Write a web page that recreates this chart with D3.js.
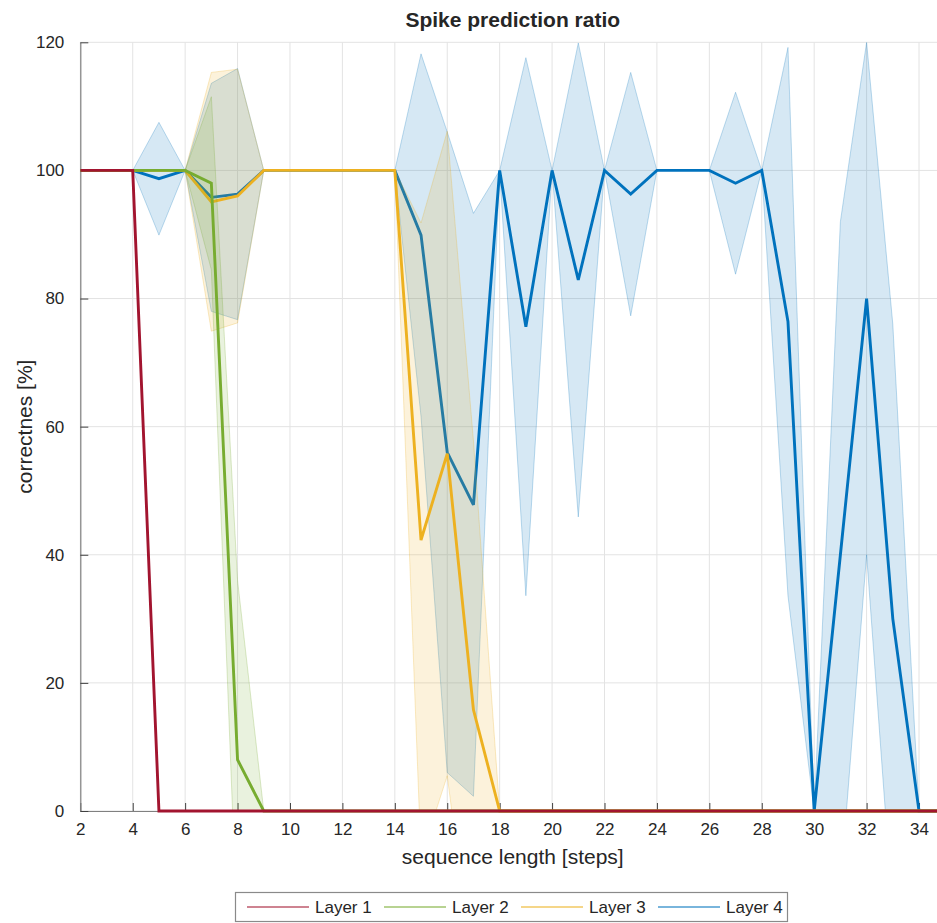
<!DOCTYPE html>
<html>
<head>
<meta charset="utf-8">
<script src="https://cdn.jsdelivr.net/npm/d3@7/dist/d3.min.js"></script>
<style>
html,body{margin:0;padding:0;background:#fff;}
svg{display:block;}
text{font-family:"Liberation Sans",Arial,Helvetica,sans-serif;fill:#262626;}
</style>
</head>
<body>
<svg id="chart" width="937" height="923"></svg>
<script>
// ---- data ----
const steps = d3.range(2, 36); // 2..35
const layer1 = [100,100,100,0,0,0,0,0,0,0,0,0,0,0,0,0,0,0,0,0,0,0,0,0,0,0,0,0,0,0,0,0,0,0];
const layer1Std = [0,0,0,0,0,0,0,0,0,0,0,0,0,0,0,0,0,0,0,0,0,0,0,0,0,0,0,0,0,0,0,0,0,0];
const layer2 = [100,100,100,100,100,98,8,0,0,0,0,0,0,0,0,0,0,0,0,0,0,0,0,0,0,0,0,0,0,0,0,0,0,0];
const layer2Std = [0,0,0,0,0,13.5,28,0,0,0,0,0,0,0,0,0,0,0,0,0,0,0,0,0,0,0,0,0,0,0,0,0,0,0];
const layer3 = [100,100,100,100,100,95.1,96,100,100,100,100,100,100,42.3,55.8,15.8,0,0,0,0,0,0,0,0,0,0,0,0,0,0,0,0,0,0];
const layer3Std = [0,0,0,0,0,20.2,19.8,0,0,0,0,0,0,49.5,50.3,42,0,0,0,0,0,0,0,0,0,0,0,0,0,0,0,0,0,0];
const layer4 = [100,100,100,98.7,100,95.8,96.3,100,100,100,100,100,100,89.9,56,47.8,100,75.6,100,82.9,100,96.3,100,100,100,98,100,76.4,0,40,80,30,0,0];
const layer4Std = [0,0,0,8.8,0,17.8,19.6,0,0,0,0,0,0,28.3,50,45.5,0,42,0,37,0,19,0,0,0,14.2,0,42.8,0,52,40,46,0,0];
const seriesNames = ["Layer 1","Layer 2","Layer 3","Layer 4"];
const seriesColors = ["#A2142F","#77AC30","#EDB120","#0072BD"];
const xTicks = d3.range(2, 35, 2);
const yTicks = [0,20,40,60,80,100,120];

const series = [
  {name: seriesNames[0], color: seriesColors[0], mean: layer1, std: layer1Std},
  {name: seriesNames[1], color: seriesColors[1], mean: layer2, std: layer2Std},
  {name: seriesNames[2], color: seriesColors[2], mean: layer3, std: layer3Std},
  {name: seriesNames[3], color: seriesColors[3], mean: layer4, std: layer4Std}
];

// ---- layout ----
const svg = d3.select("#chart");
const pLeft = 80.3, pTop = 42.3, pBottom = 811;
const x = d3.scaleLinear().domain([2, 35]).range([pLeft, pLeft + 33 * 26.21]);
const y = d3.scaleLinear().domain([0, 120]).range([pBottom, pTop]);
const pRight = x(35);

const defs = svg.append("defs");
defs.append("clipPath").attr("id", "clipFill").append("rect")
  .attr("x", pLeft).attr("y", pTop).attr("width", pRight - pLeft).attr("height", pBottom - pTop);
defs.append("clipPath").attr("id", "clipLine").append("rect")
  .attr("x", pLeft).attr("y", pTop - 3).attr("width", pRight - pLeft).attr("height", pBottom - pTop + 6);

// grid
const grid = svg.append("g");
grid.selectAll("line.gx").data(xTicks).join("line")
  .attr("x1", d => x(d)).attr("x2", d => x(d)).attr("y1", pTop).attr("y2", pBottom)
  .attr("stroke", "#e3e3e3").attr("stroke-width", 1);
grid.selectAll("line.gy").data(yTicks).join("line")
  .attr("x1", pLeft).attr("x2", pRight).attr("y1", d => y(d)).attr("y2", d => y(d))
  .attr("stroke", "#e3e3e3").attr("stroke-width", 1);

// axes
const xAxis = d3.axisBottom(x).tickValues(xTicks).tickSizeInner(-8).tickSizeOuter(0).tickPadding(12);
const yAxis = d3.axisLeft(y).tickValues(yTicks).tickSizeInner(-8).tickSizeOuter(0).tickPadding(16);
const gx = svg.append("g").attr("transform", `translate(0,${pBottom})`).call(xAxis);
const gy = svg.append("g").attr("transform", `translate(${pLeft},0)`).call(yAxis);
[gx, gy].forEach(g => {
  g.select(".domain").attr("stroke", "#808080").attr("stroke-width", 1.2);
  g.selectAll(".tick line").attr("stroke", "#404040").attr("stroke-width", 1);
  g.selectAll(".tick text").attr("font-size", 17).attr("fill", "#262626")
    .attr("font-family", '"Liberation Sans",Arial,sans-serif');
});

// bands and lines (layer 4 first, layer 1 on top)
const area = d3.area()
  .x((d, i) => x(steps[i]))
  .y0(d => y(d.lo)).y1(d => y(d.hi));
const line = d3.line().x((d, i) => x(steps[i])).y(d => y(d));

const plot = svg.append("g");
series.slice().reverse().forEach(s => {
  const band = s.mean.map((m, i) => ({lo: m - s.std[i], hi: m + s.std[i]}));
  if (d3.max(s.std) > 0) {
    plot.append("path").datum(band)
      .attr("clip-path", "url(#clipFill)")
      .attr("d", area)
      .attr("fill", s.color).attr("fill-opacity", 0.16)
      .attr("stroke", s.color).attr("stroke-opacity", 0.25).attr("stroke-width", 1);
  }
  plot.append("path").datum(s.mean)
    .attr("clip-path", "url(#clipLine)")
    .attr("d", line)
    .attr("fill", "none").attr("stroke", s.color).attr("stroke-width", 2.9)
    .attr("stroke-linejoin", "miter").attr("stroke-miterlimit", 3);
});

// title and labels
const cx = (pLeft + pRight) / 2;
svg.append("text").attr("x", cx).attr("y", 27).attr("text-anchor", "middle")
  .attr("font-size", 21).attr("font-weight", "bold").attr("fill", "#000").text("Spike prediction ratio");
svg.append("text").attr("x", cx).attr("y", 864).attr("text-anchor", "middle")
  .attr("font-size", 21).text("sequence length [steps]");
svg.append("text").attr("transform", `translate(32,${(pTop + pBottom) / 2}) rotate(-90)`)
  .attr("text-anchor", "middle").attr("font-size", 21).text("correctnes [%]");

// legend
const lg = svg.append("g");
lg.append("rect").attr("x", 235.5).attr("y", 892.5).attr("width", 552).attr("height", 29)
  .attr("fill", "#fff").attr("stroke", "#8a8a8a").attr("stroke-width", 1.2);
series.forEach((s, i) => {
  const ox = 247 + i * 137;
  lg.append("line").attr("x1", ox).attr("x2", ox + 62).attr("y1", 907).attr("y2", 907)
    .attr("stroke", s.color).attr("stroke-width", 1.5).attr("stroke-opacity", 0.7);
  lg.append("text").attr("x", ox + 68).attr("y", 913).attr("font-size", 17).text(s.name);
});
</script>
</body>
</html>
